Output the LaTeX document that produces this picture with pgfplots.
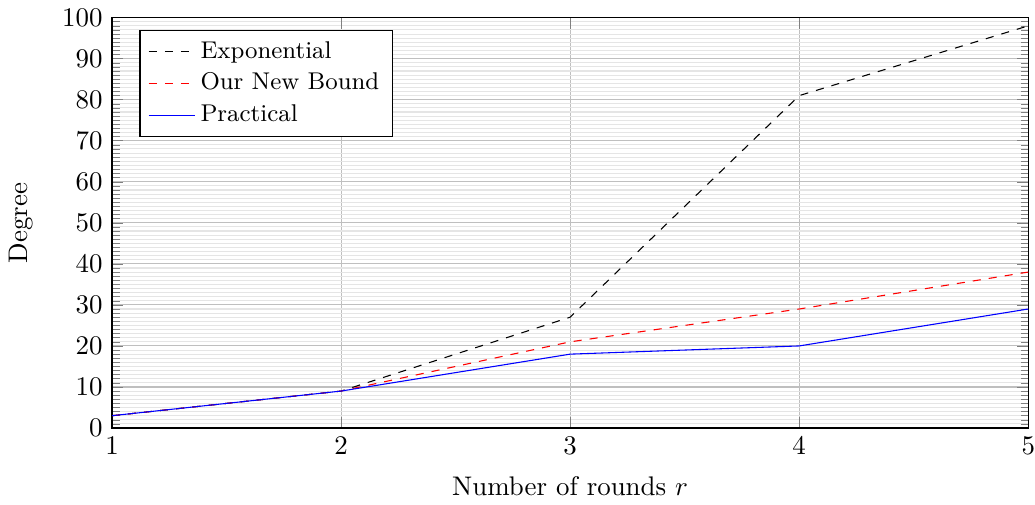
\documentclass[border=0pt]{standalone}
\usepackage{pgfplots}
\pgfplotsset{compat=1.18}
\begin{document}
\begin{tikzpicture}
\begin{axis}[
  scale only axis,
  width=340.5pt, height=152.5pt,
  xmin=1, xmax=5, ymin=0, ymax=100,
  xtick={1,2,3,4,5},
  ytick={0,10,...,100},
  minor y tick num=9,
  xmajorgrids, ymajorgrids, yminorgrids,
  major grid style={gray!50},
  minor grid style={gray!20},
  x tick label style={inner xsep=0pt},
  xlabel={Number of rounds $r$},
  ylabel={Degree},
  ylabel style={yshift=4pt},
  xlabel style={yshift=-1pt},
  legend pos=north west,
  legend style={font=\small},
  legend cell align=left,
]
\addplot[color=black, dashed] coordinates {(1,3) (2,9) (3,27) (4,81) (5,98)};
\addlegendentry{Exponential}
\addplot[color=red, dashed] coordinates {(1,3) (2,9) (3,21) (4,29) (5,38)};
\addlegendentry{Our New Bound}
\addplot[color=blue] coordinates {(1,3) (2,9) (3,18) (4,20) (5,29)};
\addlegendentry{Practical}
\end{axis}
\end{tikzpicture}
\end{document}
